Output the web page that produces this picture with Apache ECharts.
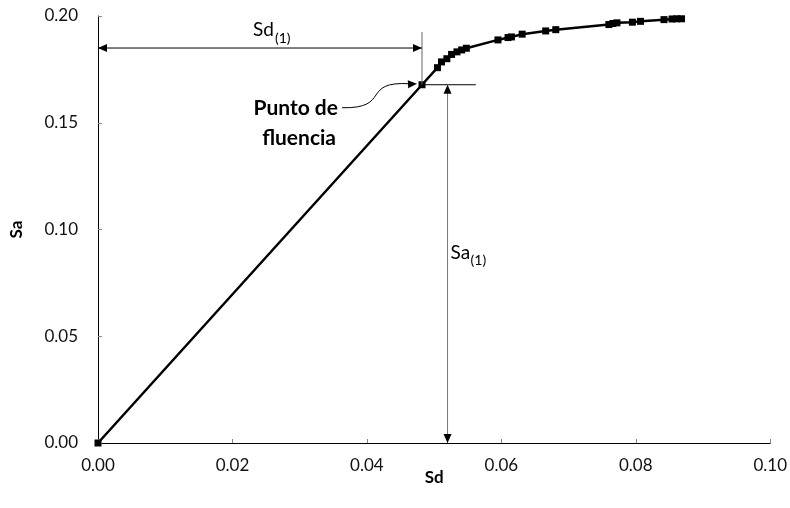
<!DOCTYPE html>
<html>
<head>
<meta charset="utf-8">
<script src="https://cdn.jsdelivr.net/npm/echarts@6/dist/echarts.min.js"></script>
<style>
  html, body { margin: 0; padding: 0; background: #fff; }
  #chart { width: 790px; height: 508px; }
</style>
</head>
<body>
<div id="chart"></div>
<script>
// Capacity curve: spectral displacement (Sd) vs spectral acceleration (Sa)
const sdValues = [0.0000, 0.0482, 0.0505, 0.0511, 0.0519, 0.0526, 0.0534, 0.0541, 0.0548,
                  0.0595, 0.0610, 0.0615, 0.0631, 0.0666, 0.0681, 0.0760, 0.0766, 0.0772,
                  0.0795, 0.0807, 0.0842, 0.0854, 0.0861, 0.0868];
const saValues = [0.0000, 0.1678, 0.1758, 0.1785, 0.1800, 0.1820, 0.1832, 0.1841, 0.1849,
                  0.1888, 0.1899, 0.1902, 0.1915, 0.1930, 0.1936, 0.1960, 0.1965, 0.1968,
                  0.1971, 0.1975, 0.1983, 0.1986, 0.1987, 0.1987];

// Yield point (Sd(1), Sa(1)) and the levels used by the dimension arrows
const yieldSd = 0.0482;
const yieldSa = 0.1678;
const sdArrowLevel = 0.185;   // height of the Sd(1) dimension arrow
const sdGuideTop = 0.1925;    // top of the vertical guide at Sd(1)
const saGuideEnd = 0.0562;    // end of the horizontal guide at Sa(1)
const saArrowAt = 0.052;      // abscissa of the Sa(1) dimension arrow

const xTicks = { min: 0, max: 0.10, interval: 0.02 };
const yTicks = { min: 0, max: 0.20, interval: 0.05 };

const FONT = 'Lato';
const chart = echarts.init(document.getElementById('chart'), null, { renderer: 'canvas' });

const axisCommon = {
  axisLine: { show: true, lineStyle: { color: '#000', width: 1 } },
  axisTick: { show: true, inside: true, length: 4, lineStyle: { color: '#888' } },
  splitLine: { show: false },
  axisLabel: { color: '#111', fontFamily: FONT, fontSize: 17, formatter: v => v.toFixed(2) },
  nameLocation: 'middle',
  nameMoveOverlap: false,
  nameTextStyle: { color: '#000', fontFamily: FONT, fontSize: 17, fontWeight: 'bold' }
};

chart.setOption({
  animation: false,
  grid: { left: 96, right: 18, top: 16, bottom: 65 },
  xAxis: Object.assign({}, axisCommon, {
    type: 'value', min: xTicks.min, max: xTicks.max, interval: xTicks.interval,
    name: 'Sd', nameGap: 26,
    axisLabel: Object.assign({}, axisCommon.axisLabel, { margin: 14 })
  }),
  yAxis: Object.assign({}, axisCommon, {
    type: 'value', min: yTicks.min, max: yTicks.max, interval: yTicks.interval,
    name: 'Sa', nameGap: 73,
    axisLabel: Object.assign({}, axisCommon.axisLabel, { margin: 20 })
  }),
  series: [{
    type: 'line',
    data: sdValues.map((x, i) => [x, saValues[i]]),
    symbol: 'rect',
    symbolSize: 7,
    showAllSymbol: true,
    itemStyle: { color: '#000' },
    lineStyle: { color: '#000', width: 2.5 },
    z: 3
  }]
});

// Dimension lines, arrows and labels placed in data coordinates
const P = (x, y) => chart.convertToPixel({ gridIndex: 0 }, [x, y]);

function line(a, b, color) {
  return { type: 'line', shape: { x1: a[0], y1: a[1], x2: b[0], y2: b[1] },
           style: { stroke: color, lineWidth: 1 }, z: 5 };
}
function head(tip, dir) {
  // dir: unit vector the arrow points towards
  const L = 9, W = 4;
  const bx = tip[0] - dir[0] * L, by = tip[1] - dir[1] * L;
  const nx = -dir[1], ny = dir[0];
  return { type: 'polygon',
           shape: { points: [tip, [bx + nx * W, by + ny * W], [bx - nx * W, by - ny * W]] },
           style: { fill: '#000' }, z: 6 };
}
function text(x, y, str, size, bold, align) {
  return { type: 'text', x: x, y: y, z: 7,
           style: { text: str, fill: '#000', font: (bold ? 'bold ' : '') + size + 'px ' + FONT,
                    align: align || 'left', verticalAlign: 'middle' } };
}

function drawAnnotations() {
  const Y = P(yieldSd, yieldSa);
  const sdL = P(0, sdArrowLevel), sdR = P(yieldSd, sdArrowLevel);
  const gTop = P(yieldSd, sdGuideTop);
  const hEnd = P(saGuideEnd, yieldSa);
  const aTop = P(saArrowAt, yieldSa), aBot = P(saArrowAt, 0);
  const aMid = (aTop[1] + aBot[1]) / 2;

  const els = [
    line(sdL, sdR, '#000'),
    head(sdL, [-1, 0]),
    head(sdR, [1, 0]),
    line(gTop, Y, '#666'),
    line(Y, hEnd, '#000'),
    line(aTop, aBot, '#777'),
    head(aTop, [0, -1]),
    head(aBot, [0, 1]),
    text(sdL[0] + 155, sdL[1] - 18, 'Sd', 19, false),
    text(sdL[0] + 177, sdL[1] - 10, '(1)', 14, false),
    text(aTop[0] + 3, aMid - 11, 'Sa', 19, false),
    text(aTop[0] + 23, aMid - 3, '(1)', 14, false),
    text(Y[0] - 84, Y[1] + 23, 'Punto de', 21, true, 'right'),
    text(Y[0] - 86, Y[1] + 53, 'fluencia', 21, true, 'right'),
    { type: 'bezierCurve', z: 5,
      shape: { x1: Y[0] - 80, y1: Y[1] + 23, cpx1: Y[0] - 30, cpy1: Y[1] + 24,
               cpx2: Y[0] - 62, cpy2: Y[1] - 4, x2: Y[0] - 12, y2: Y[1] - 1 },
      style: { stroke: '#000', lineWidth: 1, fill: null } },
    head([Y[0] - 5, Y[1] - 1], [1, -0.05])
  ];
  chart.setOption({ graphic: els });
}
drawAnnotations();
</script>
</body>
</html>
